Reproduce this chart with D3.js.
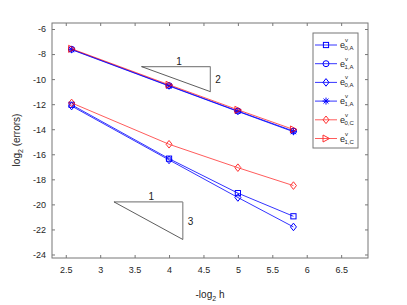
<!DOCTYPE html>
<html><head><meta charset="utf-8">
<script src="https://cdn.jsdelivr.net/npm/d3@7"></script>
<style>body{margin:0;background:#fff}svg{display:block}text{font-family:"Liberation Sans",Arial,sans-serif}</style>
</head><body><svg id="c" width="407" height="305"></svg>
<script>
const xVals = [2.585, 4, 5, 5.807];
const e0A  = [-12.05, -16.35, -19.1, -20.95];
const e1A  = [-7.62, -10.52, -12.55, -14.15];
const e0Ap = [-12.15, -16.45, -19.45, -21.8];
const e1Ap = [-7.65, -10.55, -12.58, -14.2];
const e0C  = [-11.9, -15.2, -17.07, -18.5];
const e1C  = [-7.58, -10.45, -12.45, -14.02];
const xTicks = [2.5, 3, 3.5, 4, 4.5, 5, 5.5, 6, 6.5];
const yTicks = [-24, -22, -20, -18, -16, -14, -12, -10, -8, -6];
const seriesNames = [["0,A","v"],["1,A","v"],["0,A","v"],["1,A","v"],["0,C","v"],["1,C","v"]];
const tri1 = [[3.6,-9],[4.6,-9],[4.6,-11]];
const tri2 = [[3.2,-19.8],[4.2,-19.8],[4.2,-22.8]];

const svg = d3.select("#c");
const L=52, R=368, T=23, B=258;
const x = d3.scaleLinear().domain([2.3, 6.89]).range([L, R]);
const y = d3.scaleLinear().domain([-24.28, -5.52]).range([B, T]);

const series = [
  {v:e0A, c:"#0000ff", m:"square"},
  {v:e1A, c:"#0000ff", m:"circle"},
  {v:e0Ap, c:"#0000ff", m:"diamond"},
  {v:e1Ap, c:"#0000ff", m:"star"},
  {v:e0C, c:"#ff0000", m:"diamond"},
  {v:e1C, c:"#ff0000", m:"triangle"}
];

const axisCol = "#777";
svg.append("rect").attr("x",L).attr("y",T).attr("width",R-L).attr("height",B-T)
 .attr("fill","none").attr("stroke",axisCol).attr("stroke-width",1);

const xa = svg.append("g").attr("transform",`translate(0,${B})`)
 .call(d3.axisBottom(x).tickValues(xTicks).tickSize(-3).tickPadding(9).tickFormat(d3.format("")));
const xt = svg.append("g").attr("transform",`translate(0,${T})`)
 .call(d3.axisTop(x).tickValues(xTicks).tickSize(-3).tickFormat(""));
const ya = svg.append("g").attr("transform",`translate(${L},0)`)
 .call(d3.axisLeft(y).tickValues(yTicks).tickSize(-3).tickPadding(6).tickFormat(d3.format("")));
const yr = svg.append("g").attr("transform",`translate(${R},0)`)
 .call(d3.axisRight(y).tickValues(yTicks).tickSize(-3).tickFormat(""));
[xa,xt,ya,yr].forEach(a=>{
  a.select(".domain").remove();
  a.selectAll("line").attr("stroke",axisCol);
  a.selectAll("text").attr("fill","#262626").style("font-size","9px");
});
ya.selectAll("text").text(d=>d<0?"-"+Math.abs(d):d);

const xl = svg.append("text").attr("x",210).attr("y",298).attr("text-anchor","middle")
 .attr("fill","#262626").style("font-size","10px");
xl.append("tspan").text("-log");
xl.append("tspan").text("2").attr("dy",3).style("font-size","7px");
xl.append("tspan").text(" h").attr("dy",-3);
const yl = svg.append("text").attr("transform","translate(20,140) rotate(-90)").attr("text-anchor","middle")
 .attr("fill","#262626").style("font-size","10px");
yl.append("tspan").text("log");
yl.append("tspan").text("2").attr("dy",3).style("font-size","7px");
yl.append("tspan").text(" (errors)").attr("dy",-3);

function drawTri(t, lab1, lab2){
  const p = t.map(d=>[x(d[0]), y(d[1])]);
  svg.append("line").attr("x1",p[0][0]).attr("y1",p[0][1]).attr("x2",p[1][0]).attr("y2",p[1][1]).attr("stroke","#888").attr("stroke-width",1.2);
  svg.append("line").attr("x1",p[1][0]).attr("y1",p[1][1]).attr("x2",p[2][0]).attr("y2",p[2][1]).attr("stroke","#888").attr("stroke-width",1.2);
  svg.append("line").attr("x1",p[0][0]).attr("y1",p[0][1]).attr("x2",p[2][0]).attr("y2",p[2][1]).attr("stroke","#333").attr("stroke-width",0.8);
  svg.append("text").attr("x",(p[0][0]+p[1][0])/2+3).attr("y",p[0][1]-2).attr("text-anchor","middle").style("font-size","10px").attr("fill","#222").text(lab1);
  svg.append("text").attr("x",p[1][0]+5).attr("y",(p[1][1]+p[2][1])/2+4).style("font-size","10px").attr("fill","#222").text(lab2);
}
drawTri(tri1,"1","2");
drawTri(tri2,"1","3");

function marker(sel, m, cx, cy, c){
  if(m==="square") sel.append("rect").attr("x",cx-2.6).attr("y",cy-2.6).attr("width",5.2).attr("height",5.2).attr("fill","none").attr("stroke",c);
  else if(m==="circle") sel.append("circle").attr("cx",cx).attr("cy",cy).attr("r",3).attr("fill","none").attr("stroke",c);
  else if(m==="diamond") sel.append("path").attr("d",`M${cx},${cy-3.8}L${cx+3},${cy}L${cx},${cy+3.8}L${cx-3},${cy}Z`).attr("fill","none").attr("stroke",c);
  else if(m==="triangle") sel.append("path").attr("d",`M${cx+3.5},${cy}L${cx-3},${cy-3.5}L${cx-3},${cy+3.5}Z`).attr("fill","none").attr("stroke",c);
  else if(m==="star"){
    let d="";
    for(let i=0;i<4;i++){const a=i*Math.PI/4;d+=`M${cx-3.5*Math.cos(a)},${cy-3.5*Math.sin(a)}L${cx+3.5*Math.cos(a)},${cy+3.5*Math.sin(a)}`;}
    sel.append("path").attr("d",d).attr("stroke",c).attr("fill","none");
  }
}

const line = d3.line().x((d,i)=>x(xVals[i])).y(d=>y(d));
series.forEach(s=>{
  const gg = svg.append("g").attr("opacity", s.c==="#ff0000"?0.8:1);
  gg.append("path").attr("d",line(s.v)).attr("fill","none").attr("stroke",s.c).attr("stroke-width",0.8);
  s.v.forEach((v,i)=>marker(gg,s.m,x(xVals[i]),y(v),s.c));
});

const lg = svg.append("g");
lg.append("rect").attr("x",313).attr("y",33).attr("width",45).attr("height",115).attr("fill","#fff").attr("stroke",axisCol);
series.forEach((s,i)=>{
  const yy = 45 + i*18.7;
  const gg = lg.append("g").attr("opacity", s.c==="#ff0000"?0.8:1);
  gg.append("line").attr("x1",315).attr("x2",337).attr("y1",yy).attr("y2",yy).attr("stroke",s.c).attr("stroke-width",0.8);
  marker(gg,s.m,326,yy,s.c);
  const t = lg.append("text").attr("x",340).attr("y",yy+3).attr("fill","#262626").style("font-size","9px");
  t.append("tspan").text("e");
  t.append("tspan").text(seriesNames[i][1]).attr("dy",-6).style("font-size","6px");
  t.append("tspan").text(seriesNames[i][0]).attr("dx",-3.5).attr("dy",8).style("font-size","6px");
});
</script></body></html>
